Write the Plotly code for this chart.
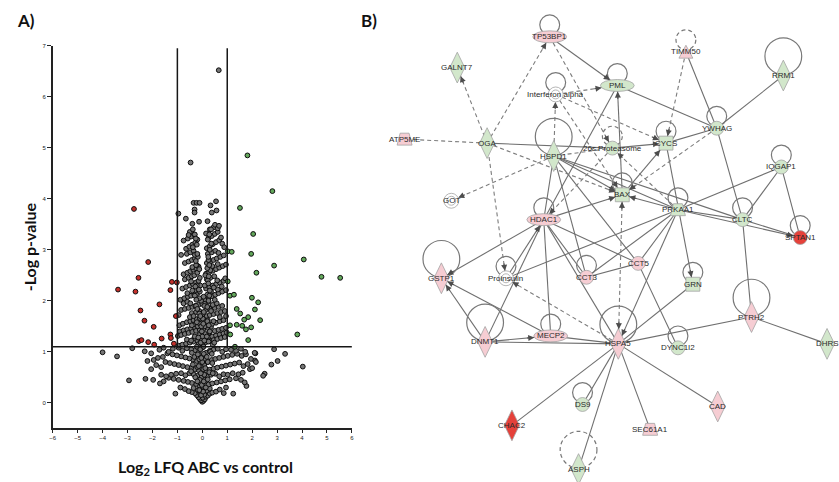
import math
import plotly.graph_objects as go

W, H = 839, 482

# ---------------- Panel A: volcano data ----------------
red_points = [(-2.74, 3.80), (-2.17, 2.76), (-2.56, 2.45), (-3.38, 2.22), (-2.68, 2.18),
              (-1.22, 2.37), (-1.02, 2.36), (-1.28, 2.21), (-1.72, 1.93), (-2.48, 1.81),
              (-1.06, 1.70), (-2.32, 1.61), (-1.95, 1.49), (-1.28, 1.34), (-1.63, 1.26),
              (-1.26, 1.27), (-2.54, 1.21), (-2.44, 1.23), (-2.17, 1.19), (-1.93, 1.14),
              (-1.14, 1.16)]
green_points = [(1.81, 4.85), (2.81, 4.15), (1.51, 3.82), (2.04, 3.31), (1.02, 2.97),
                (1.18, 2.96), (1.96, 2.92), (4.07, 2.81), (2.88, 2.69), (2.17, 2.55),
                (4.78, 2.47), (5.53, 2.45), (1.02, 2.38), (1.11, 2.10), (1.27, 2.12),
                (1.99, 2.06), (2.24, 1.97), (1.38, 1.84), (1.52, 1.75), (2.11, 1.83),
                (1.84, 1.68), (1.68, 1.63), (1.75, 1.44), (2.32, 1.62), (1.11, 1.52),
                (1.38, 1.53), (1.60, 1.51), (1.96, 1.48), (1.12, 1.34), (3.81, 1.34),
                (1.84, 1.23), (1.31, 1.10)]
gray_points = [
    # outliers
    (0.66, 6.52), (-0.47, 4.71), (-4.0, 0.99), (-3.42, 0.91), (-2.94, 0.44), (-2.81, 1.07),
    (-2.28, 0.47), (-1.97, 0.45), (-2.31, 1.01), (2.88, 1.05), (3.32, 0.96), (3.02, 0.82),
    (2.77, 0.75), (4.03, 0.71), (2.50, 0.57), (2.44, 0.53), (1.77, 0.33), (2.13, 0.97),
    (2.11, 0.83), (1.91, 0.66),
    # bottom V
    (0.00, 0.02), (0.05, 0.04), (-0.05, 0.05), (0.10, 0.07), (-0.10, 0.08), (0.02, 0.10),
    (-0.15, 0.11), (0.15, 0.12), (0.22, 0.14), (-0.22, 0.15), (0.08, 0.16), (-0.08, 0.17),
    (0.30, 0.18), (-0.30, 0.19), (0.40, 0.20), (-0.42, 0.21), (0.55, 0.22), (-0.55, 0.23),
    (0.18, 0.24), (-0.18, 0.25), (0.70, 0.26), (-0.70, 0.27), (0.86, 0.19), (1.24, 0.18),
    (-1.08, 0.18), (0.30, 0.28), (-0.35, 0.29), (0.05, 0.27), (0.95, 0.30), (-0.88, 0.30),
    # 0.3 - 0.6
    (0.00, 0.32), (-0.12, 0.34), (0.12, 0.35), (0.25, 0.36), (-0.25, 0.37), (0.40, 0.38),
    (-0.42, 0.39), (0.58, 0.40), (-0.58, 0.41), (0.75, 0.42), (-0.75, 0.43), (0.92, 0.44),
    (-0.95, 0.45), (1.10, 0.46), (-1.15, 0.47), (1.35, 0.48), (-1.35, 0.49), (1.55, 0.45),
    (-1.55, 0.42), (0.05, 0.46), (-0.05, 0.50), (0.20, 0.52), (-0.20, 0.53), (0.35, 0.55),
    (-0.35, 0.56), (0.52, 0.57), (-0.52, 0.58), (0.68, 0.52), (-0.68, 0.54), (0.85, 0.56),
    (-0.85, 0.58), (1.02, 0.55), (-1.05, 0.57), (1.22, 0.58), (-1.25, 0.55), (1.45, 0.56),
    (-1.45, 0.52), (-1.70, 0.38), (1.70, 0.40), (-1.65, 0.55), (1.62, 0.59), (0.10, 0.58),
    (-0.10, 0.40),
    # 0.6 - 1.1
    (0.00, 0.62), (0.15, 0.63), (-0.15, 0.64), (0.30, 0.65), (-0.30, 0.66), (0.45, 0.67),
    (-0.45, 0.68), (0.60, 0.69), (-0.60, 0.70), (0.78, 0.71), (-0.78, 0.72), (0.95, 0.73),
    (-0.95, 0.74), (1.12, 0.75), (-1.12, 0.76), (1.30, 0.77), (-1.30, 0.78), (1.48, 0.79),
    (-1.48, 0.80), (1.65, 0.72), (-1.65, 0.70), (1.82, 0.76), (-1.85, 0.74), (2.00, 0.68),
    (-2.05, 0.66), (0.08, 0.74), (-0.08, 0.78), (0.22, 0.80), (-0.22, 0.82), (0.38, 0.84),
    (-0.38, 0.85), (0.52, 0.86), (-0.52, 0.87), (0.68, 0.88), (-0.68, 0.89), (0.85, 0.90),
    (-0.85, 0.91), (1.02, 0.92), (-1.02, 0.93), (1.20, 0.94), (-1.20, 0.95), (1.40, 0.96),
    (-1.40, 0.97), (1.58, 0.92), (-1.58, 0.90), (1.75, 0.95), (-1.78, 0.88), (1.95, 0.86),
    (-1.95, 0.84), (2.15, 0.80), (-2.20, 0.82), (0.02, 0.92), (0.15, 0.98), (-0.15, 1.00),
    (0.30, 1.02), (-0.30, 1.03), (0.45, 1.04), (-0.45, 1.05), (0.62, 1.06), (-0.62, 1.07),
    (0.80, 1.00), (-0.80, 1.02), (0.95, 1.05), (-0.95, 1.08), (1.15, 1.04), (-1.18, 1.06),
    (1.35, 1.02), (-1.35, 1.00), (1.55, 1.06), (-1.55, 1.08), (1.72, 1.00), (-1.72, 1.04),
    (2.10, 0.98), (-2.05, 0.97), (0.00, 1.08), (0.10, 0.86), (-0.05, 0.70),
    # 1.1 - 1.5
    (-0.95, 1.12), (-0.80, 1.14), (-0.65, 1.16), (-0.50, 1.18), (-0.35, 1.20), (-0.20, 1.22),
    (-0.05, 1.24), (0.10, 1.26), (0.25, 1.28), (0.40, 1.30), (0.55, 1.32), (0.70, 1.34),
    (0.85, 1.36), (0.98, 1.38), (-0.90, 1.40), (-0.75, 1.42), (-0.60, 1.44), (-0.45, 1.46),
    (-0.30, 1.48), (-0.15, 1.15), (0.00, 1.17), (0.15, 1.19), (0.30, 1.21), (0.45, 1.23),
    (0.60, 1.25), (0.75, 1.27), (0.90, 1.29), (-0.98, 1.31), (-0.85, 1.33), (-0.70, 1.35),
    (-0.55, 1.37), (-0.40, 1.39), (-0.25, 1.41), (-0.10, 1.43), (0.05, 1.45), (0.20, 1.47),
    (0.35, 1.49), (0.50, 1.41), (0.65, 1.43), (0.80, 1.45), (0.95, 1.47), (-0.12, 1.33),
    (0.12, 1.35), (-0.02, 1.40), (0.28, 1.38), (-0.32, 1.27), (0.42, 1.14), (-0.62, 1.24),
    # 1.5 - 2.0
    (-0.92, 1.52), (-0.78, 1.55), (-0.62, 1.58), (-0.48, 1.60), (-0.35, 1.62), (-0.22, 1.64),
    (-0.10, 1.66), (0.05, 1.68), (0.18, 1.70), (0.30, 1.72), (0.45, 1.74), (0.60, 1.76),
    (0.75, 1.78), (0.90, 1.80), (-0.85, 1.82), (-0.70, 1.84), (-0.55, 1.86), (-0.40, 1.88),
    (-0.28, 1.90), (-0.15, 1.92), (0.00, 1.94), (0.12, 1.96), (0.25, 1.98), (0.40, 1.55),
    (0.55, 1.57), (0.70, 1.60), (0.85, 1.62), (-0.30, 1.54), (-0.18, 1.56), (-0.05, 1.58),
    (0.10, 1.60), (0.22, 1.62), (0.35, 1.84), (0.50, 1.86), (0.65, 1.88), (0.80, 1.90),
    (0.95, 1.70), (-0.95, 1.72), (-0.75, 1.95), (-0.60, 1.98), (-0.42, 1.76), (-0.25, 1.78),
    (-0.12, 1.80), (0.15, 1.82), (0.28, 1.85), (0.42, 1.92), (0.58, 1.95), (-0.50, 1.68),
    (0.70, 1.68),
    # 2.0 - 2.5
    (-0.88, 2.02), (-0.72, 2.05), (-0.58, 2.08), (-0.45, 2.10), (-0.32, 2.12), (-0.20, 2.15),
    (-0.10, 2.18), (0.12, 2.03), (0.25, 2.06), (0.38, 2.09), (0.52, 2.12), (0.65, 2.15),
    (0.80, 2.18), (0.95, 2.21), (-0.80, 2.24), (-0.65, 2.27), (-0.50, 2.30), (-0.38, 2.33),
    (-0.25, 2.36), (-0.15, 2.39), (0.15, 2.24), (0.28, 2.27), (0.42, 2.30), (0.56, 2.33),
    (0.70, 2.36), (0.85, 2.39), (-0.70, 2.42), (-0.55, 2.45), (-0.42, 2.48), (-0.30, 2.20),
    (-0.18, 2.26), (0.18, 2.42), (0.32, 2.45), (0.48, 2.48), (0.62, 2.22), (0.78, 2.28),
    (0.92, 2.44), (-0.60, 2.15), (0.35, 2.18), (-0.08, 2.30), (0.20, 2.12), (-0.45, 2.38),
    (0.60, 2.40),
    # 2.5 - 3.0
    (-0.75, 2.52), (-0.60, 2.55), (-0.48, 2.58), (-0.36, 2.61), (-0.25, 2.64), (-0.15, 2.67),
    (0.15, 2.53), (0.28, 2.56), (0.42, 2.59), (0.55, 2.62), (0.68, 2.65), (0.82, 2.68),
    (0.95, 2.71), (-0.70, 2.74), (-0.55, 2.77), (-0.42, 2.80), (-0.30, 2.83), (-0.18, 2.86),
    (0.18, 2.74), (0.32, 2.77), (0.45, 2.80), (0.58, 2.83), (0.72, 2.86), (0.86, 2.89),
    (-0.62, 2.92), (-0.48, 2.95), (-0.35, 2.98), (0.22, 2.92), (0.38, 2.95), (0.52, 2.98),
    (0.65, 2.94), (-0.22, 2.70), (0.40, 2.68), (-0.85, 2.90), (-0.40, 2.66), (0.62, 2.72),
    # 3.0 - 3.5
    (-0.65, 3.02), (-0.52, 3.06), (-0.40, 3.10), (-0.28, 3.14), (0.18, 3.03), (0.30, 3.07),
    (0.42, 3.11), (0.55, 3.15), (0.68, 3.19), (0.80, 3.12), (-0.58, 3.22), (-0.45, 3.26),
    (-0.32, 3.30), (0.25, 3.23), (0.38, 3.27), (0.50, 3.31), (0.62, 3.35), (0.75, 3.24),
    (-0.50, 3.35), (-0.38, 3.40), (0.30, 3.40), (0.45, 3.44), (-0.75, 3.18), (0.88, 3.05),
    (-0.20, 3.20), (0.15, 3.32),
    # top
    (-0.35, 3.92), (-0.23, 3.92), (-0.11, 3.92), (-0.31, 3.79), (-0.31, 3.73), (-0.96, 3.71),
    (-0.66, 3.61), (0.33, 3.87), (0.55, 3.95), (0.57, 3.77), (0.38, 3.73), (0.21, 3.56),
    (-0.13, 3.55), (0.51, 3.49), (0.62, 3.42), (0.67, 3.47), (-0.40, 3.51), (-0.55, 3.29),
    # dense lobes
    (-0.28, 0.50), (-0.20, 0.70), (-0.32, 0.90), (-0.22, 1.10), (-0.30, 1.30), (-0.18, 1.50),
    (-0.35, 1.70), (-0.25, 1.90), (-0.30, 2.10), (-0.22, 2.30), (-0.32, 2.50), (-0.25, 2.70),
    (-0.30, 2.90), (-0.22, 3.10), (-0.30, 3.30),
    (0.28, 0.60), (0.22, 0.80), (0.32, 1.00), (0.25, 1.20), (0.30, 1.40), (0.20, 1.60),
    (0.35, 1.80), (0.25, 2.00), (0.30, 2.20), (0.22, 2.40), (0.32, 2.60), (0.25, 2.80),
    (0.30, 3.00), (0.22, 3.20), (0.35, 3.40),
    (-0.10, 0.45), (-0.12, 0.85), (-0.08, 1.05), (-0.10, 1.55), (-0.12, 1.75), (-0.05, 2.00),
    (0.08, 0.55), (0.05, 1.10), (0.10, 1.50), (0.08, 1.90), (0.00, 0.80), (0.00, 1.30),
    (0.02, 1.65),
    # extra dense core
    (-0.05, 0.15), (0.03, 0.22), (-0.02, 0.35), (0.06, 0.42), (-0.06, 0.58), (0.04, 0.66),
    (-0.14, 0.72), (0.12, 0.68), (-0.04, 0.88), (0.06, 0.96), (-0.18, 0.95), (0.18, 0.90),
    (-0.06, 1.18), (0.08, 1.22), (-0.16, 1.28), (0.18, 1.30), (-0.04, 1.50), (0.04, 1.55),
    (-0.22, 1.58), (0.26, 1.52), (-0.08, 1.70), (0.06, 1.78), (-0.20, 1.84), (0.20, 1.88),
    (-0.12, 2.05), (0.05, 2.08), (-0.24, 2.02), (0.28, 2.10), (-0.14, 2.22), (0.10, 2.30),
    (-0.28, 2.28), (0.24, 2.34), (-0.10, 2.45), (0.12, 2.50), (-0.20, 2.55), (0.26, 2.48),
    (-0.12, 2.62), (0.20, 2.64), (-0.26, 2.78), (0.28, 2.70), (-0.20, 2.92), (0.24, 2.86),
    (-0.38, 3.05), (0.36, 3.12), (-0.26, 3.22), (0.28, 3.30), (-0.45, 0.62), (0.42, 0.58),
    (-0.38, 0.75), (0.40, 0.78), (-0.42, 0.98), (0.38, 0.96), (-0.45, 1.22), (0.48, 1.18),
    (-0.42, 1.52), (0.45, 1.60), (-0.48, 1.95), (0.50, 2.02), (-0.40, 2.20), (0.46, 2.26),
    (-0.12, 0.25), (0.14, 0.30), (-0.20, 0.42), (0.22, 0.46),
]
fc_thresholds = [-1, 1]
p_threshold = 1.1
x_tick_vals = [-6, -5, -4, -3, -2, -1, 0, 1, 2, 3, 4, 5, 6]
y_tick_vals = [0, 1, 2, 3, 4, 5, 6, 7]

# ---------------- Panel B: network data ----------------
node_names = ["TP53BP1", "GALNT7", "TIMM50", "RRM1", "PML", "Interferon alpha", "ATP5ME",
              "OGA", "HSPD1", "26s Proteasome", "CYCS", "YWHAG", "GOT", "IQGAP1", "BAX",
              "HDAC1", "PRKAA1", "CLTC", "SPTAN1", "GSTP1", "Proinsulin", "CCT3", "CCT5",
              "GRN", "PTRH2", "DNMT1", "MECP2", "HSPA5", "DYNC1I2", "DHRS", "DS9", "CHAC2",
              "CAD", "SEC61A1", "ASPH"]
node_x = [550, 457, 687, 785, 618, 556, 404, 487, 554, 613, 667, 718, 451, 783, 623,
          544, 679, 744, 802, 441, 506, 587, 639, 694, 753, 485, 551, 619, 679, 829, 583,
          512, 719, 651, 579]
node_y = [34, 65, 49, 73, 83, 92, 137, 141, 154, 146, 141, 126, 199, 165, 193,
          218, 208, 218, 236, 277, 277, 276, 262, 283, 316, 341, 335, 343, 347, 343, 404,
          425, 406, 429, 469]
node_shape = ["ellipse", "diamond", "triangle", "diamond", "ellipse", "dcircle", "trap",
              "diamond", "diamond", "circle", "square", "circle", "dcircle", "circle", "square",
              "ellipse", "trap", "circle", "circle", "diamond", "dcircle", "circle", "circle",
              "square", "diamond", "diamond", "ellipse", "diamond", "circle", "diamond", "circle",
              "diamond", "diamond", "trap", "diamond"]
node_reg = ["up", "down", "up", "down", "down", "none", "up",
            "down", "down", "down", "down", "down", "none", "down", "down",
            "up", "down", "down", "strong", "up", "none", "up", "up",
            "down", "up", "up", "up", "up", "down", "down", "down",
            "strong", "up", "up", "down"]
node_loop = [1, 0, 1, 2, 1, 1, 0, 0, 2, 1, 1, 1, 0, 1, 1,
             1, 1, 1, 1, 2, 1, 1, 0, 1, 2, 2, 1, 2, 1, 0, 1,
             0, 0, 0, 2]
node_loop_dashed = ["TIMM50", "26s Proteasome", "ASPH"]

edges = [
    ("OGA", "GALNT7", 1, "dst"), ("OGA", "TP53BP1", 1, "dst"), ("OGA", "ATP5ME", 1, ""),
    ("OGA", "Proinsulin", 1, "dst"), ("OGA", "BAX", 1, "dst"), ("HSPD1", "GOT", 1, "dst"),
    ("HSPD1", "Interferon alpha", 1, "dst"), ("Interferon alpha", "PML", 1, "dst"),
    ("Interferon alpha", "BAX", 1, "dst"), ("Interferon alpha", "CYCS", 1, "dst"),
    ("TP53BP1", "26s Proteasome", 1, "dst"), ("TIMM50", "CYCS", 1, "dst"),
    ("YWHAG", "BAX", 1, "dst"), ("HSPD1", "26s Proteasome", 1, ""),
    ("HSPA5", "BAX", 1, "both"), ("HSPA5", "Proinsulin", 1, "dst"),
    ("PRKAA1", "26s Proteasome", 1, "dst"), ("26s Proteasome", "HDAC1", 1, "dst"),
    ("TP53BP1", "PML", 0, "dst"), ("PML", "YWHAG", 0, ""), ("BAX", "PML", 0, "dst"),
    ("PML", "HDAC1", 0, ""), ("OGA", "26s Proteasome", 0, ""),
    ("26s Proteasome", "CYCS", 0, "dst"), ("CYCS", "YWHAG", 0, ""), ("BAX", "CYCS", 0, "dst"),
    ("YWHAG", "RRM1", 0, ""), ("TIMM50", "YWHAG", 0, ""), ("YWHAG", "CLTC", 0, ""),
    ("CYCS", "GRN", 0, "dst"), ("PRKAA1", "IQGAP1", 0, ""), ("PRKAA1", "CLTC", 0, ""),
    ("PRKAA1", "SPTAN1", 0, "dst"), ("IQGAP1", "CLTC", 0, ""), ("IQGAP1", "SPTAN1", 0, ""),
    ("CLTC", "SPTAN1", 0, ""), ("CLTC", "PTRH2", 0, ""), ("PRKAA1", "BAX", 0, "dst"),
    ("HSPD1", "PRKAA1", 0, ""), ("HSPD1", "BAX", 0, "dst"), ("HSPD1", "HDAC1", 0, ""),
    ("HSPD1", "CCT3", 0, ""), ("HSPD1", "CCT5", 0, ""), ("HSPD1", "CLTC", 0, ""),
    ("HDAC1", "BAX", 0, "dst"), ("HDAC1", "GSTP1", 0, "dst"), ("DNMT1", "HDAC1", 0, ""),
    ("HDAC1", "MECP2", 0, ""), ("HDAC1", "CCT3", 0, ""), ("HDAC1", "HSPA5", 0, ""),
    ("HDAC1", "CCT5", 0, ""), ("DNMT1", "GSTP1", 0, "dst"), ("DNMT1", "MECP2", 0, "dst"),
    ("DNMT1", "HSPA5", 0, ""), ("MECP2", "GSTP1", 0, "dst"), ("MECP2", "HSPA5", 0, ""),
    ("HSPA5", "CHAC2", 0, ""), ("HSPA5", "DS9", 0, ""), ("HSPA5", "ASPH", 0, ""),
    ("HSPA5", "SEC61A1", 0, ""), ("HSPA5", "CAD", 0, ""), ("HSPA5", "PTRH2", 0, ""),
    ("HSPA5", "GRN", 0, ""), ("PRKAA1", "HSPA5", 0, "dst"), ("PRKAA1", "CCT5", 0, ""),
    ("PRKAA1", "CCT3", 0, ""), ("PRKAA1", "Proinsulin", 0, ""), ("CCT3", "CCT5", 0, ""),
    ("CCT5", "DYNC1I2", 0, ""), ("PTRH2", "DHRS", 0, ""), ("Proinsulin", "HDAC1", 0, "dst"),
]

# ---------------- styling ----------------
REG_FILL = {"up": "#f6cdd3", "down": "#d2e7cb", "none": "#ffffff", "strong": "#e5413a"}
HALF = {"ellipse": (17, 6), "circle": (7, 7), "dcircle": (7.5, 7.5), "square": (7, 7),
        "diamond": (7.5, 15.5), "triangle": (7, 6.5), "trap": (7.5, 6)}
EDGE_COL = "#6f6f6f"

fig = go.Figure()


def add_pts(pts, fill):
    fig.add_trace(go.Scatter(
        x=[p[0] for p in pts], y=[p[1] for p in pts], mode="markers",
        marker=dict(size=4.8, color=fill, line=dict(color="#0d0d0d", width=1.0)),
        xaxis="x", yaxis="y", hoverinfo="skip", showlegend=False))


add_pts(gray_points, "#757575")
add_pts(red_points, "#c4302b")
add_pts(green_points, "#63a85b")

shapes = []
for fc in fc_thresholds:
    shapes.append(dict(type="line", xref="x", yref="y", x0=fc, x1=fc, y0=p_threshold, y1=6.95,
                       line=dict(color="#161616", width=1.5), layer="above"))
shapes.append(dict(type="line", xref="x", yref="y", x0=-6, x1=6, y0=p_threshold, y1=p_threshold,
                   line=dict(color="#161616", width=1.5), layer="above"))

# network
pos = {n: (x, y) for n, x, y in zip(node_names, node_x, node_y)}
shp = dict(zip(node_names, node_shape))


def bdist(shape, ux, uy):
    a, b = HALF[shape]
    ux, uy = abs(ux) + 1e-9, abs(uy) + 1e-9
    if shape in ("circle", "dcircle", "ellipse"):
        return 1 / math.sqrt((ux / a) ** 2 + (uy / b) ** 2)
    if shape == "diamond":
        return 1 / (ux / a + uy / b)
    return 1 / max(ux / a, uy / b)


for dashed in (0, 1):
    ex, ey = [], []
    for s, d, dsh, arr in edges:
        if dsh != dashed:
            continue
        ex += [pos[s][0], pos[d][0], None]
        ey += [pos[s][1], pos[d][1], None]
    fig.add_trace(go.Scatter(
        x=ex, y=ey, mode="lines", xaxis="x2", yaxis="y2", hoverinfo="skip", showlegend=False,
        line=dict(color="#7d7d7d" if dashed else EDGE_COL, width=1.1,
                  dash="4px,3px" if dashed else "solid")))

annotations = []


def arrow_to(src, dst):
    sx, sy = pos[src]
    tx, ty = pos[dst]
    d = math.hypot(sx - tx, sy - ty)
    ux, uy = (sx - tx) / d, (sy - ty) / d
    r = bdist(shp[dst], ux, uy)
    annotations.append(dict(
        x=tx, y=ty, ax=tx + ux * (r + 9), ay=ty + uy * (r + 9), xref="x2", yref="y2",
        axref="x2", ayref="y2", text="", showarrow=True, arrowhead=2, arrowsize=1.1,
        arrowwidth=1.1, arrowcolor="#4d4d4d", standoff=r))


for s, d, dsh, arr in edges:
    if arr in ("dst", "both"):
        arrow_to(s, d)
    if arr in ("src", "both"):
        arrow_to(d, s)

# self loops
for n, lp in zip(node_names, node_loop):
    if not lp:
        continue
    x, y = pos[n]
    rr, off = (10, 12) if lp == 1 else (18.5, 19.5)
    shapes.append(dict(type="circle", xref="x2", yref="y2", x0=x - rr, x1=x + rr,
                       y0=y - off - rr, y1=y - off + rr, layer="above",
                       line=dict(color="#787878", width=1.2,
                                 dash="4px,3px" if n in node_loop_dashed else "solid")))

# nodes
for n, sh, rg in zip(node_names, node_shape, node_reg):
    x, y = pos[n]
    a, b = HALF[sh]
    fill = REG_FILL[rg]
    ln = dict(color="#a3a3a3", width=0.8)
    base = dict(xref="x2", yref="y2", fillcolor=fill, line=ln, layer="above")
    if sh in ("ellipse", "circle"):
        shapes.append(dict(type="circle", x0=x - a, x1=x + a, y0=y - b, y1=y + b, **base))
    elif sh == "dcircle":
        shapes.append(dict(type="circle", x0=x - a, x1=x + a, y0=y - b, y1=y + b, **base))
        shapes.append(dict(type="circle", x0=x - 4.5, x1=x + 4.5, y0=y - 4.5, y1=y + 4.5, **base))
    elif sh == "square":
        shapes.append(dict(type="rect", x0=x - a, x1=x + a, y0=y - b, y1=y + b, **base))
    elif sh == "diamond":
        shapes.append(dict(type="path", path=f"M {x},{y - b} L {x + a},{y} L {x},{y + b} L {x - a},{y} Z", **base))
    elif sh == "triangle":
        shapes.append(dict(type="path", path=f"M {x},{y - b} L {x + a},{y + b} L {x - a},{y + b} Z", **base))
    elif sh == "trap":
        shapes.append(dict(type="path", path=f"M {x - a * 0.6},{y - b} L {x + a * 0.6},{y - b} L {x + a},{y + b} L {x - a},{y + b} Z", **base))
    annotations.append(dict(x=x, y=y, xref="x2", yref="y2", text=n, showarrow=False,
                            font=dict(family="Liberation Sans, Arial", size=8, color="#2a2a2a")))

# titles / panel labels
annotations += [
    dict(x=12, y=18, xref="x2", yref="y2", text="<b>A)</b>", showarrow=False, xanchor="left",
         font=dict(family="Lato", size=17, color="#111")),
    dict(x=358, y=18, xref="x2", yref="y2", text="<b>B)</b>", showarrow=False, xanchor="left",
         font=dict(family="Lato", size=17, color="#111")),
    dict(x=204, y=467, xref="x2", yref="y2", text="<b>Log<sub>2</sub> LFQ ABC vs control</b>",
         showarrow=False, font=dict(family="Lato", size=16, color="#111")),
    dict(x=27, y=245, xref="x2", yref="y2", text="<b>-Log p-value</b>", textangle=-90,
         showarrow=False, font=dict(family="Lato", size=16, color="#111")),
]

fig.update_layout(
    width=W, height=H, margin=dict(l=0, r=0, t=0, b=0), paper_bgcolor="white",
    plot_bgcolor="rgba(0,0,0,0)", showlegend=False,
    xaxis=dict(domain=[50 / W, 351 / W], range=[-6, 6], tickvals=x_tick_vals, ticks="outside",
               ticklen=3, tickwidth=1, tickcolor="#222", showline=True, linecolor="#222",
               linewidth=1.5, showgrid=False, zeroline=False, anchor="y",
               tickfont=dict(size=6, color="#222", family="Liberation Sans")),
    yaxis=dict(domain=[(H - 428) / H, (H - 43) / H], range=[-0.5, 7], tickvals=y_tick_vals,
               ticks="outside", ticklen=4, tickwidth=1, tickcolor="#222", showline=True,
               linecolor="#222", linewidth=1.5, showgrid=False, zeroline=False, anchor="x",
               tickfont=dict(size=6, color="#222", family="Liberation Sans")),
    xaxis2=dict(domain=[0, 1], range=[0, W], visible=False, anchor="y2", fixedrange=True),
    yaxis2=dict(domain=[0, 1], range=[H, 0], visible=False, anchor="x2", fixedrange=True),
    shapes=shapes, annotations=annotations,
)

fig.write_html("out.html")
